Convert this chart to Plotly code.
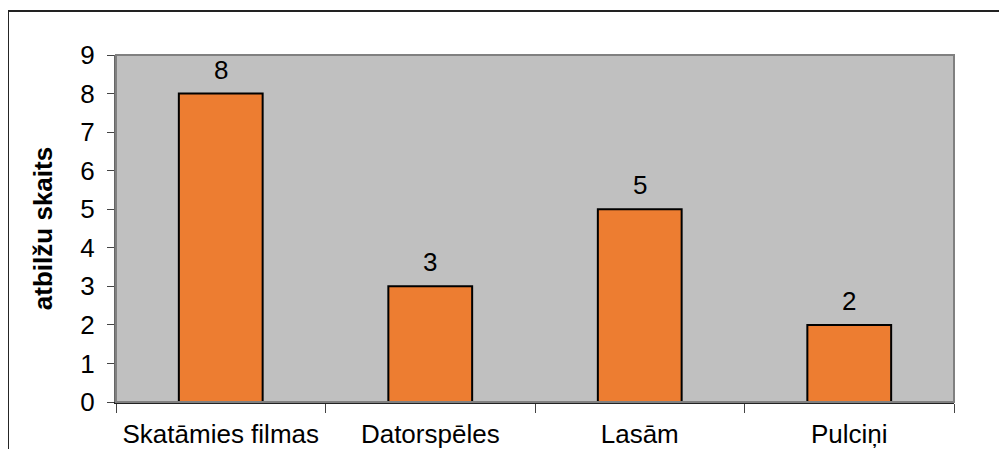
import plotly.graph_objects as go

categories = ["Skatāmies filmas", "Datorspēles", "Lasām", "Pulciņi"]
values = [8, 3, 5, 2]
y_ticks = list(range(0, 10))
y_title = "atbilžu skaits"

FONT = "Liberation Sans, Arial, sans-serif"

fig = go.Figure()
fig.add_trace(go.Bar(
    x=categories, y=values,
    width=0.4,
    marker=dict(color="#ED7D31", line=dict(color="#000000", width=2)),
    hoverinfo="skip",
))

for c, v in zip(categories, values):
    fig.add_annotation(x=c, y=v, text=str(v), showarrow=False,
                       yanchor="bottom", yshift=7,
                       font=dict(family=FONT, size=26, color="#000000"))

# plot-area border (gray)
fig.add_shape(type="rect", xref="paper", yref="paper", x0=0, x1=1, y0=0, y1=1,
              line=dict(color="#808080", width=2), layer="above")
# outer chart border
fig.add_shape(type="rect", xref="paper", yref="paper",
              x0=-0.1289, x1=1.0668, y0=-0.167, y1=1.1268,
              line=dict(color="#222222", width=2), layer="below")

fig.update_layout(
    width=999, height=441,
    margin=dict(l=108, r=53, t=47, b=47),
    paper_bgcolor="#FFFFFF",
    plot_bgcolor="#C0C0C0",
    showlegend=False,
    font=dict(family=FONT, size=26, color="#000000"),
    xaxis=dict(
        showgrid=False, showline=True, linecolor="#222222", linewidth=2,
        ticks="outside", tickson="boundaries", ticklen=9, tickcolor="#444444",
        tickwidth=1, ticklabelstandoff=8, automargin=False,
        tickfont=dict(family=FONT, size=26, color="#000000"),
        zeroline=False,
    ),
    yaxis=dict(
        range=[0, 9], tickvals=y_ticks, showgrid=False,
        showline=True, linecolor="#666666", linewidth=2,
        ticks="outside", ticklen=7, tickcolor="#444444", tickwidth=1,
        ticklabelstandoff=7, automargin=False,
        tickfont=dict(family=FONT, size=26, color="#000000"),
        zeroline=False,
        title=dict(text="<b>" + y_title + "</b>", standoff=20,
                   font=dict(family=FONT, size=26, color="#000000")),
    ),
)

fig.write_html("out.html")
